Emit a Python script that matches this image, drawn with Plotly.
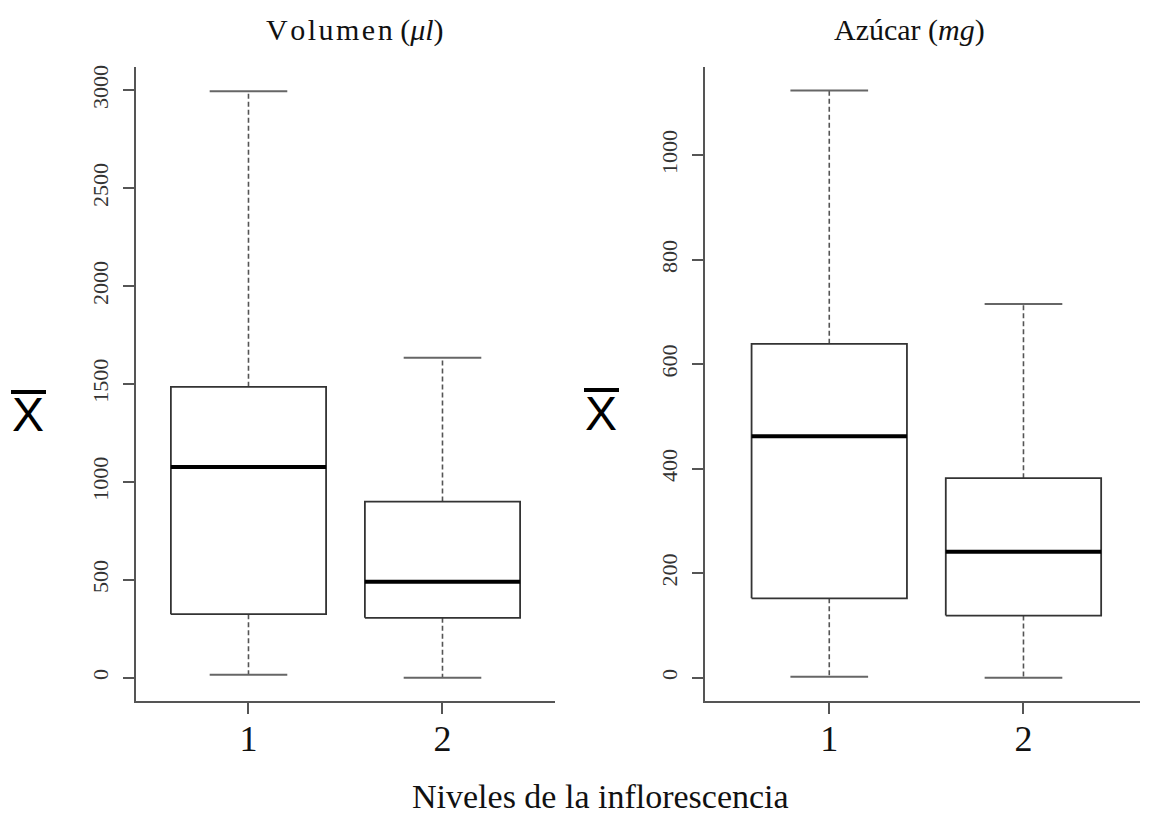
import plotly.graph_objects as go

# ---- data ----
levels = [1, 2]
level_labels = ["1", "2"]

vol_low = [15, 0]
vol_q1 = [325, 306]
vol_median = [1076, 490]
vol_q3 = [1486, 900]
vol_high = [2995, 1634]

az_low = [2, 0]
az_q1 = [152, 119]
az_median = [462, 241]
az_q3 = [639, 382]
az_high = [1124, 715]

vol_ticks = [0, 500, 1000, 1500, 2000, 2500, 3000]
az_ticks = [0, 200, 400, 600, 800, 1000]

BOX_HALF = 0.4
CAP_HALF = 0.2
SERIF = "Liberation Serif"
W, H = 1166, 817

fig = go.Figure()


def add_boxes(xa, ya, low, q1, med, q3, high):
    for p, lo, a, m, b, hi in zip(levels, low, q1, med, q3, high):
        # whiskers (dashed)
        fig.add_trace(go.Scatter(
            x=[p, p, None, p, p], y=[b, hi, None, a, lo], mode="lines",
            line=dict(color="#555555", width=1.6, dash="5px,3px"),
            xaxis=xa, yaxis=ya, showlegend=False, hoverinfo="skip"))
        # caps
        fig.add_trace(go.Scatter(
            x=[p - CAP_HALF, p + CAP_HALF, None, p - CAP_HALF, p + CAP_HALF],
            y=[hi, hi, None, lo, lo], mode="lines",
            line=dict(color="#666666", width=2),
            xaxis=xa, yaxis=ya, showlegend=False, hoverinfo="skip"))
        # box
        fig.add_trace(go.Scatter(
            x=[p - BOX_HALF, p + BOX_HALF, p + BOX_HALF, p - BOX_HALF, p - BOX_HALF],
            y=[a, a, b, b, a], mode="lines",
            line=dict(color="#333333", width=1.8),
            xaxis=xa, yaxis=ya, showlegend=False, hoverinfo="skip"))
        # median
        fig.add_trace(go.Scatter(
            x=[p - BOX_HALF, p + BOX_HALF], y=[m, m], mode="lines",
            line=dict(color="#000000", width=4),
            xaxis=xa, yaxis=ya, showlegend=False, hoverinfo="skip"))


add_boxes("x", "y", vol_low, vol_q1, vol_median, vol_q3, vol_high)
add_boxes("x2", "y2", az_low, az_q1, az_median, az_q3, az_high)

axis_common = dict(showline=True, linecolor="#555555", linewidth=2,
                   showgrid=False, zeroline=False, ticks="outside",
                   tickcolor="#555555", tickwidth=2)

xtickfont = dict(family=SERIF, size=36, color="#111111")
ytickfont = dict(family=SERIF, size=22, color="#333333")

ydom = [0.142, 0.9204]
fig.update_layout(
    width=W, height=H,
    margin=dict(l=0, r=0, t=0, b=0),
    paper_bgcolor="white", plot_bgcolor="white",
    xaxis=dict(domain=[0.1166, 0.476], range=[0.42, 2.58],
               tickvals=levels, ticktext=level_labels, ticklen=11,
               tickfont=xtickfont, ticklabelstandoff=-6, **axis_common),
    yaxis=dict(domain=ydom, range=[-120, 3120], tickvals=vol_ticks,
               ticklen=11, tickangle=-90, ticklabelstandoff=6,
               tickfont=ytickfont, **axis_common),
    xaxis2=dict(domain=[0.6046, 0.9777], range=[0.36, 2.6], anchor="y2",
                tickvals=levels, ticktext=level_labels, ticklen=11,
                tickfont=xtickfont, ticklabelstandoff=-6, **axis_common),
    yaxis2=dict(domain=ydom, range=[-45, 1169], anchor="x2",
                tickvals=az_ticks, ticklen=11, tickangle=-90,
                ticklabelstandoff=6, tickfont=ytickfont, **axis_common),
)

HS = "\u200a"
titles = [
    (HS.join("Volumen") + " (<i>μl</i>)", 355, 28),
    ("Azúcar (<i>mg</i>)", 910, 28),
]
for text, xp, yp in titles:
    fig.add_annotation(text=text, x=xp / W, y=1 - yp / H,
                       xref="paper", yref="paper", showarrow=False,
                       xanchor="center", yanchor="middle",
                       font=dict(family=SERIF, size=30, color="#111111"))

fig.add_annotation(text="Niveles de la inflorescencia", x=600 / W,
                   y=1 - 796 / H, xref="paper", yref="paper",
                   showarrow=False, xanchor="center", yanchor="middle",
                   font=dict(family=SERIF, size=34, color="#111111"))

# X-bar symbols (mean) on the left of each panel
for xc, yc, x0, x1, yb in [(28, 414, 11, 46, 391), (601, 413, 584, 619, 389)]:
    fig.add_annotation(text="X", x=xc / W, y=1 - yc / H,
                       xref="paper", yref="paper", showarrow=False,
                       xanchor="center", yanchor="middle",
                       font=dict(family="Liberation Sans", size=48, color="#000000"))
    fig.add_shape(type="line", xref="paper", yref="paper",
                  x0=x0 / W, x1=x1 / W, y0=1 - yb / H, y1=1 - yb / H,
                  line=dict(color="#000000", width=4))

fig.write_html("out.html")
